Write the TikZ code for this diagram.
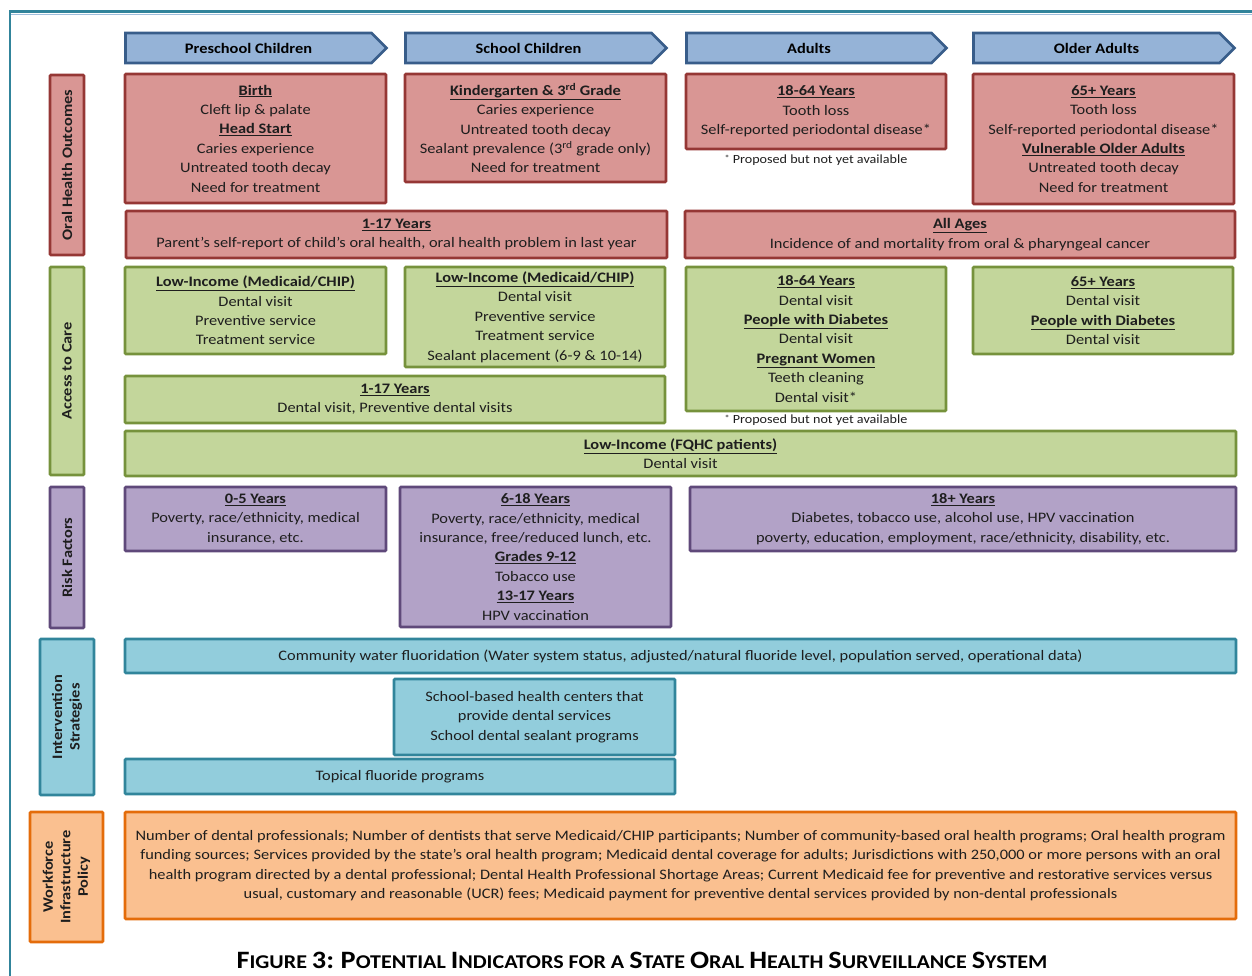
\documentclass[tikz,border=0pt]{standalone}
\usepackage{fontspec}
\setmainfont{Carlito}[FakeStretch=1.13]
\usetikzlibrary{shapes.symbols}
\definecolor{hdrF}{RGB}{149,179,215}
\definecolor{hdrD}{RGB}{56,93,138}
\definecolor{redF}{RGB}{217,150,148}
\definecolor{redD}{RGB}{149,55,53}
\definecolor{grnF}{RGB}{195,214,155}
\definecolor{grnD}{RGB}{118,146,60}
\definecolor{purF}{RGB}{178,162,199}
\definecolor{purD}{RGB}{95,73,122}
\definecolor{bluF}{RGB}{146,205,220}
\definecolor{bluD}{RGB}{49,133,155}
\definecolor{orgF}{RGB}{250,192,144}
\definecolor{orgD}{RGB}{228,108,10}
\definecolor{txt}{RGB}{30,30,30}
\definecolor{frameC}{RGB}{49,132,155}
\definecolor{frameL}{RGB}{160,190,220}
\newcommand{\uh}[1]{\textbf{\underline{#1}}}
\newcommand{\tsc}[2]{{\fontsize{25}{25}\selectfont #1}{\fontsize{19.5}{19.5}\selectfont #2}}
\tikzset{
 box/.style={draw, line width=2.6pt, rounded corners=1pt, align=center, inner sep=0pt, text=txt, font=\fontsize{14.5}{19.4}\selectfont},
 redbox/.style={box, fill=redF, draw=redD},
 grnbox/.style={box, fill=grnF, draw=grnD},
 purbox/.style={box, fill=purF, draw=purD},
 blubox/.style={box, fill=bluF, draw=bluD},
 orgbox/.style={box, fill=orgF, draw=orgD},
 hdr/.style={signal, signal to=east, signal pointer angle=90, draw=hdrD, fill=hdrF, line width=2.6pt, font=\bfseries\fontsize{14.5}{16}\selectfont, text=black, inner sep=0pt},
 side/.style={rotate=90, font=\bfseries\fontsize{14.5}{17.5}\selectfont},
 note/.style={font=\fontsize{12.5}{14}\selectfont, text=txt, inner sep=0pt},
}
\begin{document}
\begin{tikzpicture}[x=1pt,y=-1pt]
\useasboundingbox (0,0) rectangle (1252,976);
% frame
\draw[frameL, line width=1.5pt] (11,14.5) -- (1252,14.5);
\draw[frameC, line width=2.5pt] (10,976) -- (10,11.5) -- (1252,11.5);
% headers
\node[hdr, minimum width=261, minimum height=30] (h1) at (248.5,48) {Preschool Children};
\node[hdr, minimum width=261, minimum height=30] (h2) at (528.5,48) {School Children};
\node[hdr, minimum width=260, minimum height=30] (h3) at (809,48) {Adults};
\node[hdr, minimum width=261, minimum height=30] (h4) at (1096.5,48) {Older Adults};
% side labels
\node[redbox, side, minimum width=180, minimum height=34] (s1) at (67,165) {Oral Health Outcomes};
\node[grnbox, side, minimum width=208, minimum height=34] (s2) at (67,371) {Access to Care};
\node[purbox, side, minimum width=141, minimum height=34] (s3) at (67,557.5) {Risk Factors};
\node[blubox, side, minimum width=156, minimum height=54] (s4) at (67,717) {Intervention\\Strategies};
\node[orgbox, side, minimum width=130, minimum height=73] (s5) at (66.5,877) {Workforce\\Infrastructure\\Policy};
% oral health outcomes
\node[redbox, minimum width=261, minimum height=129] (o1) at (255.5,138.5) {\uh{Birth}\\Cleft lip \& palate\\\uh{Head Start}\\Caries experience\\Untreated tooth decay\\Need for treatment};
\node[redbox, minimum width=261, minimum height=108] (o2) at (535.5,128) {\uh{Kindergarten \& 3\textsuperscript{rd} Grade}\\Caries experience\\Untreated tooth decay\\Sealant prevalence (3\textsuperscript{rd} grade only)\\Need for treatment};
\node[redbox, minimum width=260, minimum height=75] (o3) at (816,111.5) {\uh{18-64 Years}\\Tooth loss\\Self-reported periodontal disease*};
\node[note] (n1) at (816,160) {\raisebox{2pt}{\fontsize{9}{9}\selectfont*} Proposed but not yet available};
\node[redbox, minimum width=261, minimum height=130] (o4) at (1103.5,139) {\uh{65+ Years}\\Tooth loss\\Self-reported periodontal disease*\\\uh{Vulnerable Older Adults}\\Untreated tooth decay\\Need for treatment};
\node[redbox, minimum width=541, minimum height=47] (o5) at (396.5,234.5) {\uh{1-17 Years}\\Parent’s self-report of child’s oral health, oral health problem in last year};
\node[redbox, minimum width=550, minimum height=47] (o6) at (960,234.5) {\uh{All Ages}\\Incidence of and mortality from oral \& pharyngeal cancer};
% access to care
\node[grnbox, minimum width=261, minimum height=87] (a1) at (255.5,310.5) {\uh{Low-Income (Medicaid/CHIP)}\\Dental visit\\Preventive service\\Treatment service};
\node[grnbox, minimum width=260, minimum height=100] (a2) at (535,317) {\uh{Low-Income (Medicaid/CHIP)}\\Dental visit\\Preventive service\\Treatment service\\Sealant placement (6-9 \& 10-14)};
\node[grnbox, minimum width=260, minimum height=144] (a3) at (816,339) {\uh{18-64 Years}\\Dental visit\\\uh{People with Diabetes}\\Dental visit\\\uh{Pregnant Women}\\Teeth cleaning\\Dental visit*};
\node[note] (n2) at (816,420) {\raisebox{2pt}{\fontsize{9}{9}\selectfont*} Proposed but not yet available};
\node[grnbox, minimum width=260, minimum height=87] (a4) at (1103,310.5) {\uh{65+ Years}\\Dental visit\\\uh{People with Diabetes}\\Dental visit};
\node[grnbox, minimum width=540, minimum height=47] (a5) at (395,399.5) {\uh{1-17 Years}\\Dental visit, Preventive dental visits};
\node[grnbox, minimum width=1111, minimum height=45] (a6) at (680.5,453.5) {\uh{Low-Income (FQHC patients)}\\Dental visit};
% risk factors
\node[purbox, minimum width=261, minimum height=64] (r1) at (255.5,519) {\uh{0-5 Years}\\Poverty, race/ethnicity, medical\\insurance, etc.};
\node[purbox, minimum width=271, minimum height=140] (r2) at (535.5,557) {\uh{6-18 Years}\\Poverty, race/ethnicity, medical\\insurance, free/reduced lunch, etc.\\\uh{Grades 9-12}\\Tobacco use\\\uh{13-17 Years}\\HPV vaccination};
\node[purbox, minimum width=546, minimum height=64] (r3) at (963,519) {\uh{18+ Years}\\Diabetes, tobacco use, alcohol use, HPV vaccination\\poverty, education, employment, race/ethnicity, disability, etc.};
% intervention strategies
\node[blubox, minimum width=1111, minimum height=34] (i1) at (680.5,656) {Community water fluoridation (Water system status, adjusted/natural fluoride level, population served, operational data)};
\node[blubox, minimum width=281, minimum height=76] (i2) at (534.5,717) {School-based health centers that\\provide dental services\\School dental sealant programs};
\node[blubox, minimum width=550, minimum height=35] (i3) at (400,776.5) {Topical fluoride programs};
% workforce
\node[orgbox, minimum width=1111, minimum height=107] (w1) at (680.5,865.5) {Number of dental professionals; Number of dentists that serve Medicaid/CHIP participants; Number of community-based oral health programs; Oral health program\\funding sources; Services provided by the state’s oral health program; Medicaid dental coverage for adults; Jurisdictions with 250,000 or more persons with an oral\\health program directed by a dental professional; Dental Health Professional Shortage Areas; Current Medicaid fee for preventive and restorative services versus\\usual, customary and reasonable (UCR) fees; Medicaid payment for preventive dental services provided by non-dental professionals};
% title
\node[font=\bfseries\fontsize{19.5}{20}\selectfont, text=black, inner sep=0pt] (title) at (642,960) {\tsc{F}{IGURE} \tsc{3:}{} \tsc{P}{OTENTIAL} \tsc{I}{NDICATORS FOR A} \tsc{S}{TATE} \tsc{O}{RAL} \tsc{H}{EALTH} \tsc{S}{URVEILLANCE} \tsc{S}{YSTEM}};
\end{tikzpicture}
\end{document}
